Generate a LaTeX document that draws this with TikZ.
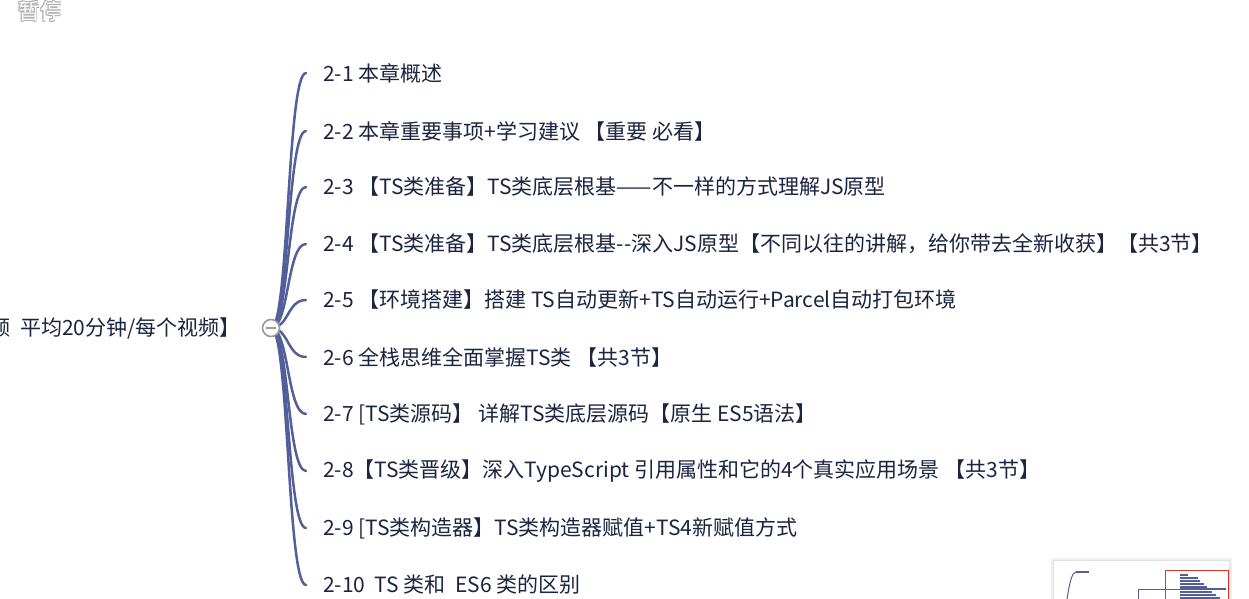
\documentclass[tikz,border=0pt]{standalone}
\usepackage{fontspec}
\setmainfont{Noto Sans CJK SC}
\newfontfamily\cjk{Noto Sans CJK SC}
\definecolor{txt}{HTML}{1B2440}
\definecolor{branch}{HTML}{545F9A}
\definecolor{hubgray}{HTML}{9A9A9A}
\definecolor{minired}{HTML}{E0312B}
\tikzset{
  item/.style={anchor=west, inner sep=0pt, text=txt, font=\cjk\fontsize{21}{24}\selectfont},
  br/.style={draw=branch, line width=2.5pt, line cap=round},
}
\begin{document}
\begin{tikzpicture}[x=1pt,y=-1pt]
\useasboundingbox (0,0) rectangle (1249,599);
\fill[white] (0,0) rectangle (1249,599);
% pause label
\foreach \dx/\dy in {-0.8/0,0.8/0,0/-0.8,0/0.8,0.6/0.6,-0.6/-0.6,0.6/-0.6,-0.6/0.6}
  \node[inner sep=0pt, text=black!30, font=\cjk\fontsize{22}{24}\selectfont] at (40+\dx,11+\dy) {暂停};
\node[inner sep=0pt, text=white, font=\cjk\fontsize{22}{24}\selectfont] (pause) at (40,11) {暂停};
% root text (cut off)
\node[item, anchor=east] (root) at (241,328) {频\ \ 平均20分钟/每个视频】};
% hub
\coordinate (hub) at (271,328);
% items
\node[item] (n1) at (323,73) {2-1 本章概述};
\node[item] (n2) at (323,131) {2-2 本章重要事项+学习建议 【重要 必看】};
\node[item] (n3) at (323,187) {2-3 【TS类准备】TS类底层根基——不一样的方式理解JS原型};
\node[item] (n4) at (323,244) {2-4 【TS类准备】TS类底层根基--深入JS原型【不同以往的讲解，给你带去全新收获】【共3节】};
\node[item] (n5) at (323,300) {2-5 【环境搭建】搭建 TS自动更新+TS自动运行+Parcel自动打包环境};
\node[item] (n6) at (323,357) {2-6 全栈思维全面掌握TS类 【共3节】};
\node[item] (n7) at (323,414) {2-7 [TS类源码】 详解TS类底层源码【原生 ES5语法】};
\node[item] (n8) at (323,471) {2-8【TS类晋级】深入TypeScript 引用属性和它的4个真实应用场景 【共3节】};
\node[item] (n9) at (323,528) {2-9 [TS类构造器】TS类构造器赋值+TS4新赋值方式};
\node[item] (n10) at (323,585) {2-10\ \ TS 类和\ \ ES6 类的区别};
% branches
\foreach \n/\y in {1/73,2/131,3/187,4/244,5/300,6/357,7/414,8/471,9/528,10/585}{
  \coordinate (e\n) at (306,\y);
  \draw[br] (hub) .. controls (289,328) and (287,\y) .. (e\n);
}
% hub circle
\node[circle, draw=hubgray, fill=white, line width=1.6pt, minimum size=17pt, inner sep=0pt] (hubc) at (hub) {};
\draw[hubgray, line width=1.6pt] ([xshift=-5pt]hubc.center) -- ([xshift=5pt]hubc.center);
% minimap
\fill[black!6] (1051,558) rectangle (1232,599);
\node[draw=black!12, fill=white, minimum width=176pt, minimum height=45pt, anchor=north west, inner sep=0pt] (mini) at (1053,560) {};
\draw[branch, line width=1pt] (1067,599) .. controls (1070,580) and (1072,573) .. (1076,572);
\draw[branch, line width=2pt] (1076,572) -- (1089,572);
\draw[branch, line width=0.8pt] (1138,599) -- (1138,589) -- (1180,589);
\foreach \yy/\len in {575/8,578/18,581/20,584/24,587/27,589/46,592/32,595/36,598/40}
  \draw[branch, line width=1.5pt] (1180,\yy) -- ++(\len,0);
\node[draw=minired, line width=1pt, minimum width=63pt, minimum height=32pt, anchor=north west, inner sep=0pt] (redbox) at (1165,570) {};
\end{tikzpicture}
\end{document}
